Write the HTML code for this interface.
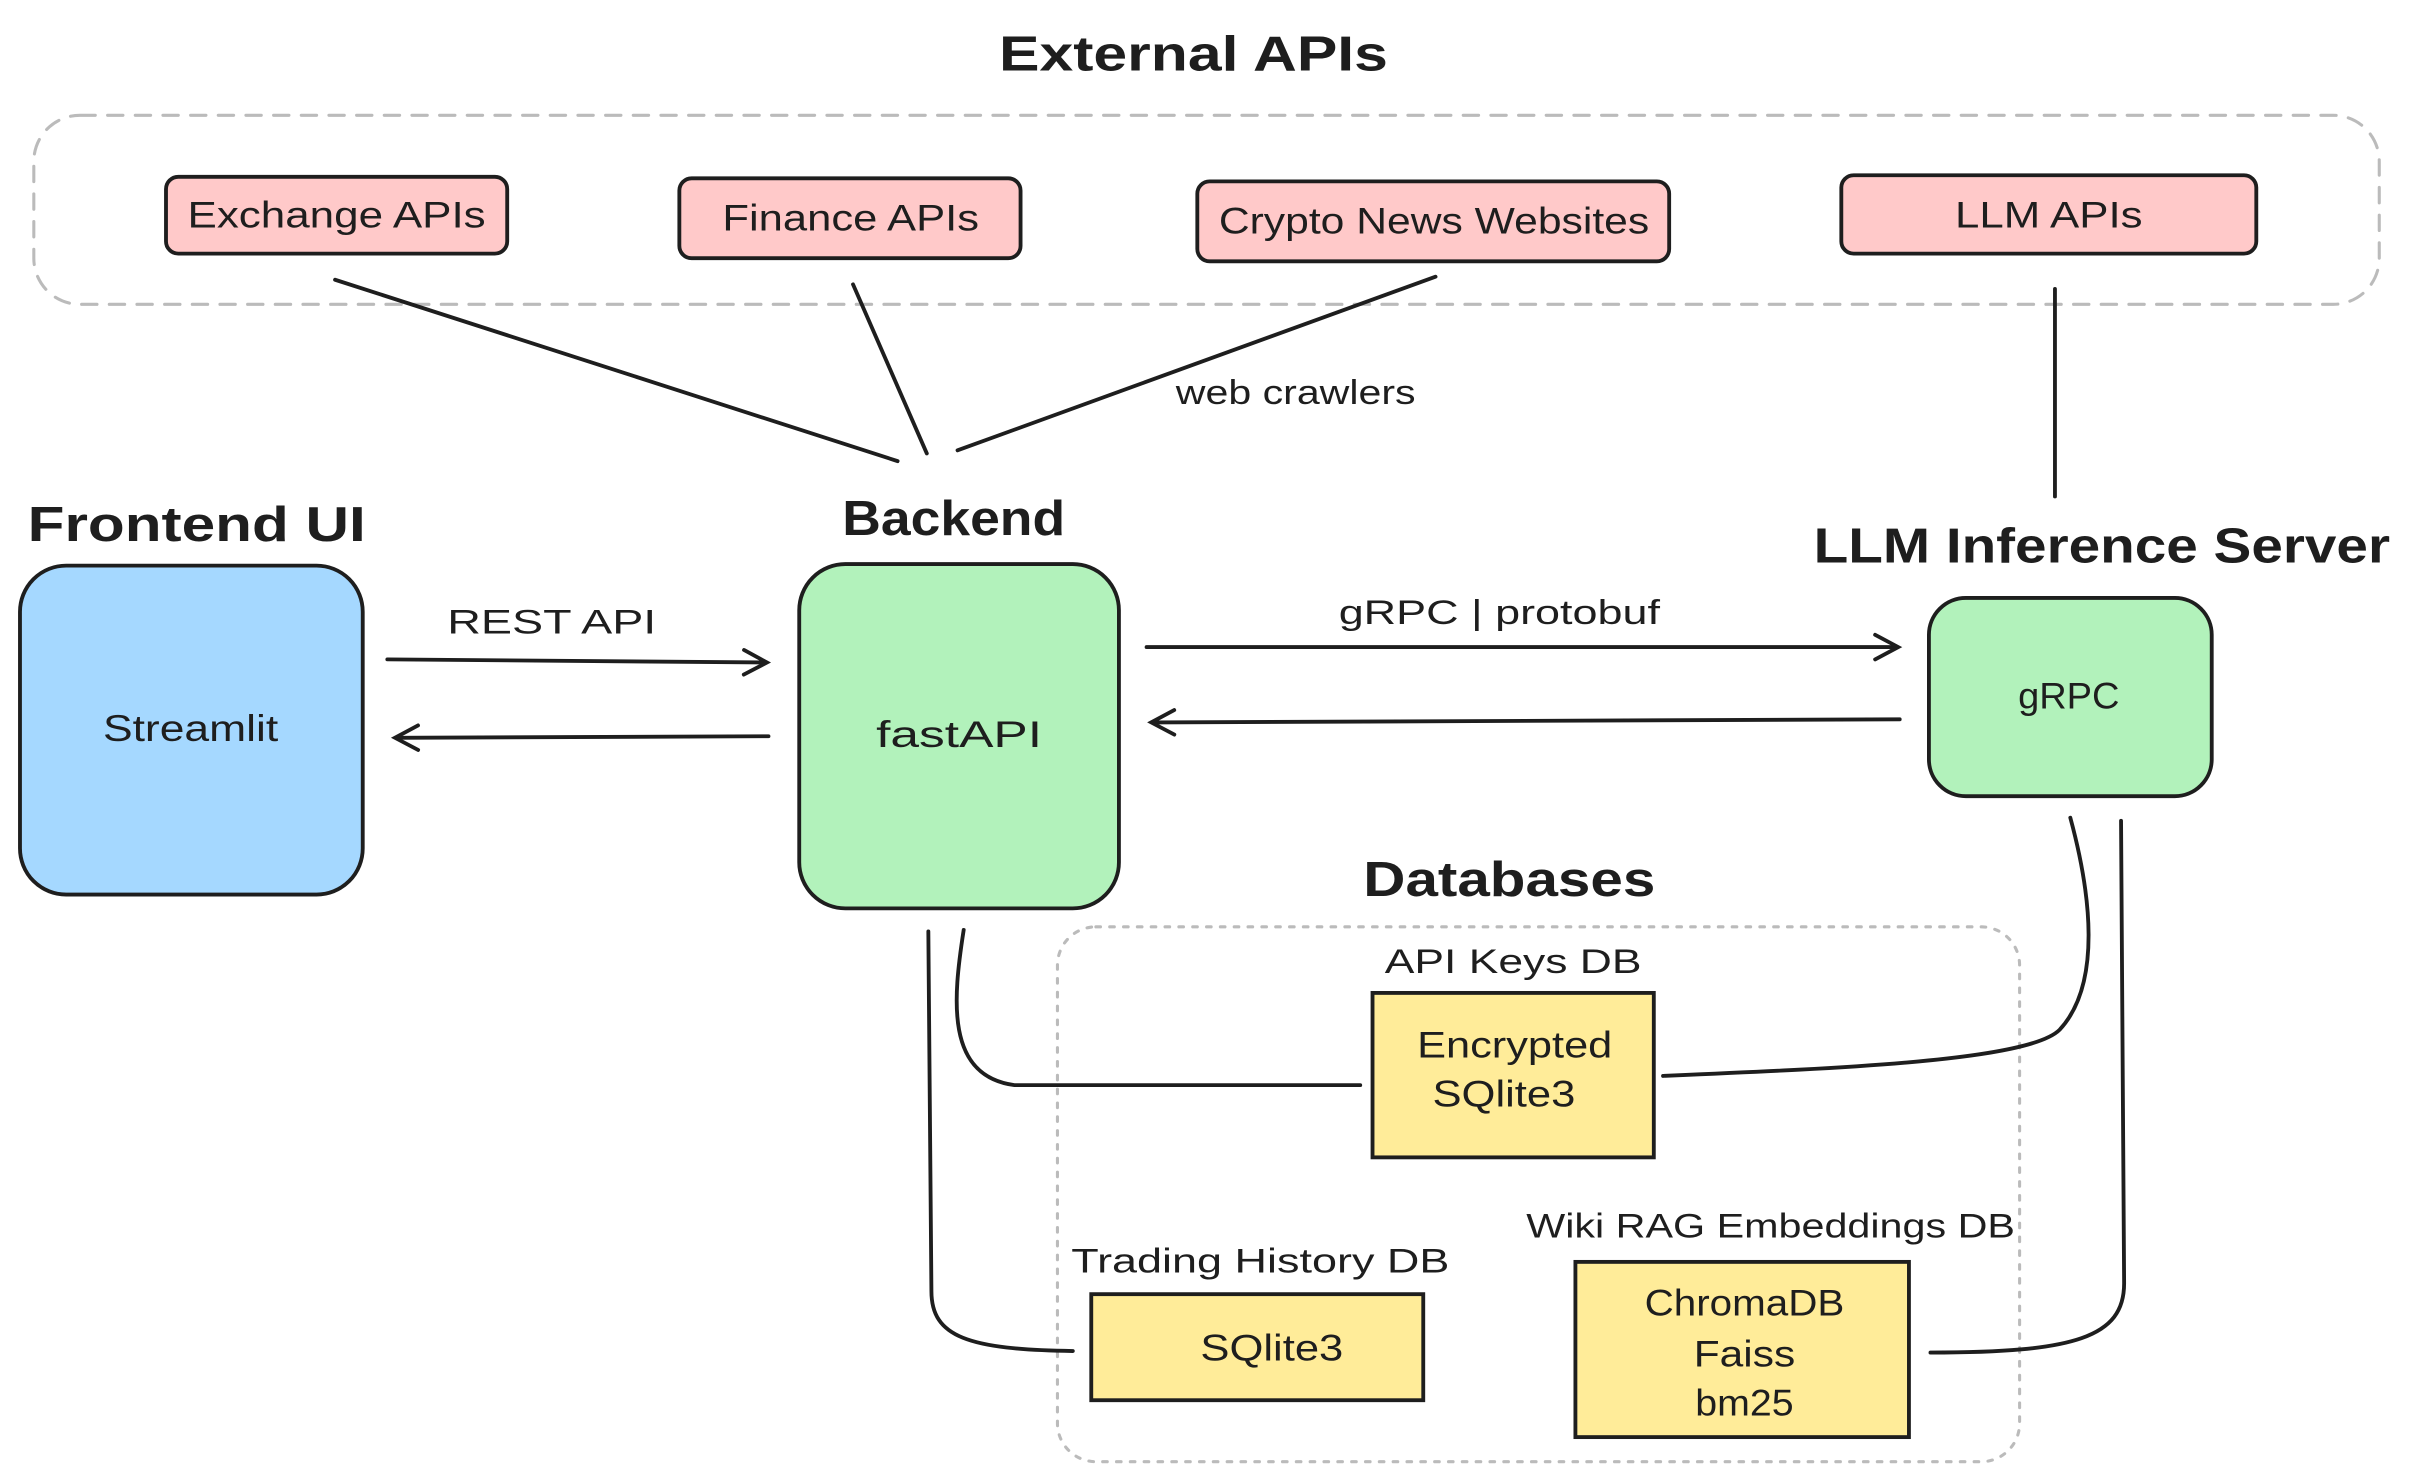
<!DOCTYPE html>
<html><head><meta charset="utf-8"><style>
html,body{margin:0;padding:0;background:#fff;}
svg{display:block;}
text{font-family:"Liberation Sans",sans-serif;fill:#1e1e1e;}
</style></head><body>
<svg width="2410" height="1484" viewBox="0 0 1568 965.5" xmlns="http://www.w3.org/2000/svg">
<defs>
<marker id="ah" markerWidth="20" markerHeight="20" refX="16" refY="10" orient="auto" markerUnits="userSpaceOnUse">
<path d="M2,2 L17,10 L2,18" fill="none" stroke="#1e1e1e" stroke-width="2.5" stroke-linecap="round"/>
</marker>
</defs>
<g stroke="#1e1e1e" stroke-width="2.5" fill="none" stroke-linecap="round">
<rect x="22" y="75" width="1526" height="123" rx="30" stroke="#bbb" stroke-width="2" stroke-dasharray="10 8"/>
<rect x="108" y="115" width="222" height="50" rx="8" fill="#ffc9c9"/>
<rect x="442" y="116" width="222" height="52" rx="8" fill="#ffc9c9"/>
<rect x="779" y="118" width="307" height="52" rx="8" fill="#ffc9c9"/>
<rect x="1198" y="114" width="270" height="51" rx="8" fill="#ffc9c9"/>
<line x1="218" y1="182" x2="584" y2="300"/>
<line x1="555" y1="185" x2="603" y2="295"/>
<line x1="934" y1="180" x2="623" y2="293"/>
<line x1="1337" y1="188" x2="1337" y2="323"/>
<rect x="13" y="368" width="223" height="214" rx="30" fill="#a5d8ff"/>
<rect x="520" y="367" width="208" height="224" rx="30" fill="#b2f2bb"/>
<rect x="1255" y="389" width="184" height="129" rx="24" fill="#b2f2bb"/>
<line x1="252" y1="429" x2="498" y2="431" marker-end="url(#ah)"/>
<line x1="500" y1="479" x2="258" y2="480" marker-end="url(#ah)"/>
<line x1="746" y1="421" x2="1234" y2="421" marker-end="url(#ah)"/>
<line x1="1236" y1="468" x2="750" y2="470" marker-end="url(#ah)"/>
<rect x="688" y="603" width="626" height="348" rx="25" stroke="#bbb" stroke-width="2" stroke-dasharray="3 6"/>
<rect x="893" y="646" width="183" height="107" fill="#ffec99"/>
<rect x="710" y="842" width="216" height="69" fill="#ffec99"/>
<rect x="1025" y="821" width="217" height="114" fill="#ffec99"/>
<path d="M627,605 C620,650 615,700 660,706 L885,706"/>
<path d="M604,606 L606,840 C606,870 630,878 698,879"/>
<path d="M1347,532 C1360,580 1368,640 1340,670 C1320,690 1200,695 1082,700"/>
<path d="M1380,534 L1382,835 C1382,870 1350,880 1256,880"/>
</g>
<g font-size="32" font-weight="600">
<text x="650" y="46" textLength="253" lengthAdjust="spacingAndGlyphs">External APIs</text>
<text x="18" y="352" textLength="220" lengthAdjust="spacingAndGlyphs">Frontend UI</text>
<text x="548" y="348" textLength="145" lengthAdjust="spacingAndGlyphs">Backend</text>
<text x="1180" y="366" textLength="375" lengthAdjust="spacingAndGlyphs">LLM Inference Server</text>
<text x="887" y="583" textLength="190" lengthAdjust="spacingAndGlyphs">Databases</text>
</g>
<g font-size="24">
<text x="122" y="148" textLength="194" lengthAdjust="spacingAndGlyphs">Exchange APIs</text>
<text x="470" y="150" textLength="167" lengthAdjust="spacingAndGlyphs">Finance APIs</text>
<text x="793" y="152" textLength="280" lengthAdjust="spacingAndGlyphs">Crypto News Websites</text>
<text x="1272" y="148" textLength="122" lengthAdjust="spacingAndGlyphs">LLM APIs</text>
<text x="67" y="482" textLength="114" lengthAdjust="spacingAndGlyphs">Streamlit</text>
<text x="570" y="486" textLength="108" lengthAdjust="spacingAndGlyphs">fastAPI</text>
<text x="1313" y="461" textLength="66" lengthAdjust="spacingAndGlyphs">gRPC</text>
<text x="922" y="688" textLength="127" lengthAdjust="spacingAndGlyphs">Encrypted</text>
<text x="932" y="720" textLength="93" lengthAdjust="spacingAndGlyphs">SQlite3</text>
<text x="781" y="885" textLength="93" lengthAdjust="spacingAndGlyphs">SQlite3</text>
<text x="1070" y="856" textLength="130" lengthAdjust="spacingAndGlyphs">ChromaDB</text>
<text x="1102" y="889" textLength="66" lengthAdjust="spacingAndGlyphs">Faiss</text>
<text x="1103" y="921" textLength="64" lengthAdjust="spacingAndGlyphs">bm25</text>
</g>
<g font-size="22">
<text x="765" y="263" textLength="156" lengthAdjust="spacingAndGlyphs">web crawlers</text>
<text x="291" y="412" textLength="136" lengthAdjust="spacingAndGlyphs">REST API</text>
<text x="871" y="406" textLength="209" lengthAdjust="spacingAndGlyphs">gRPC | protobuf</text>
<text x="901" y="633" textLength="167" lengthAdjust="spacingAndGlyphs">API Keys DB</text>
<text x="697" y="828" textLength="246" lengthAdjust="spacingAndGlyphs">Trading History DB</text>
<text x="993" y="805" textLength="318" lengthAdjust="spacingAndGlyphs">Wiki RAG Embeddings DB</text>
</g>
</svg>
</body></html>
